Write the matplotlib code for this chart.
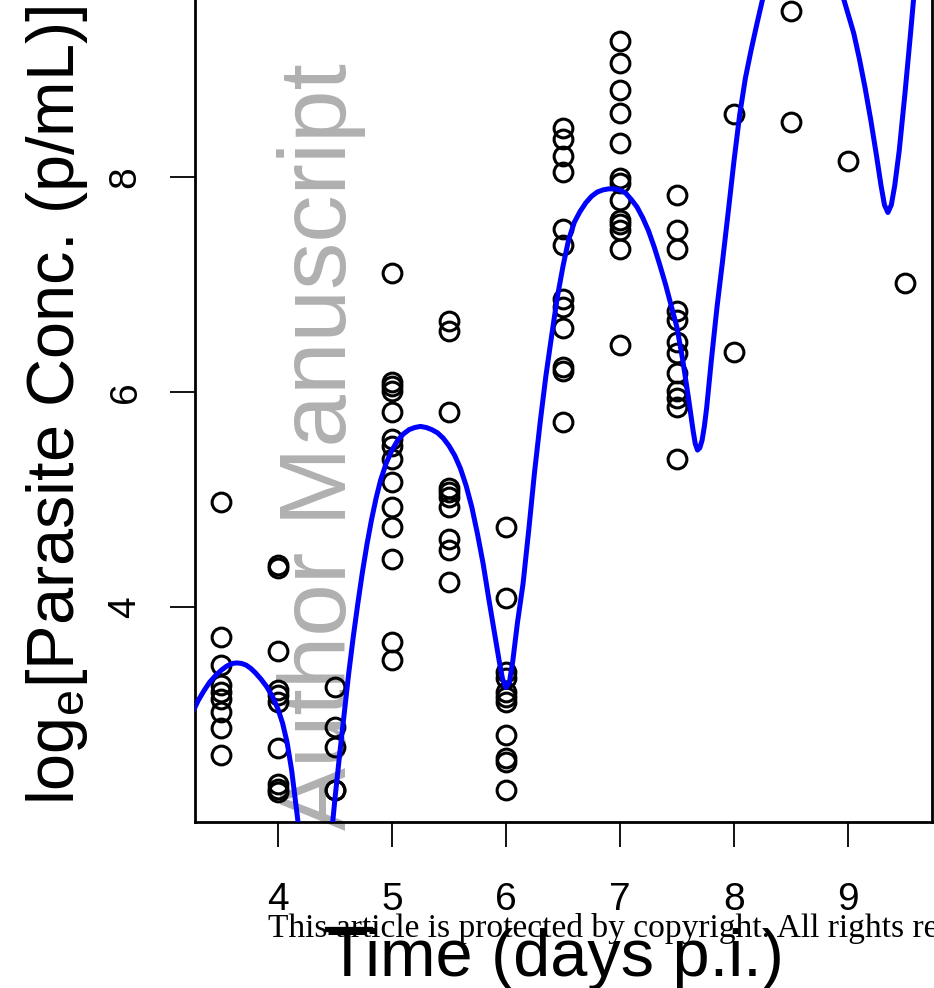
import matplotlib
matplotlib.use("Agg")
import matplotlib.pyplot as plt
from matplotlib.lines import Line2D

plt.rcParams['font.family'] = ['Liberation Sans', 'DejaVu Sans']
plt.rcParams['mathtext.fontset'] = 'custom'
plt.rcParams['mathtext.rm'] = 'Liberation Sans'
plt.rcParams['mathtext.it'] = 'Liberation Sans:italic'

# ---------------- data ----------------
day_3_5 = [4.98, 3.72, 3.46, 3.27, 3.21, 3.14, 3.02, 2.87, 2.62]
day_4_0 = [4.39, 4.36, 3.59, 3.23, 3.18, 3.12, 2.69, 2.35, 2.31, 2.28]
day_4_5 = [3.26, 2.88, 2.70, 2.30, 2.30]
day_5_0 = [7.11, 6.09, 6.06, 6.01, 5.81, 5.56, 5.50, 5.38, 5.16, 4.93, 4.74, 4.45, 3.67, 3.51]
day_5_5 = [6.66, 6.57, 5.81, 5.11, 5.07, 5.02, 4.93, 4.63, 4.53, 4.23]
day_6_0 = [4.74, 4.08, 3.40, 3.34, 3.21, 3.16, 3.12, 2.81, 2.60, 2.56, 2.30]
day_6_5 = [8.46, 8.35, 8.20, 8.05, 7.52, 7.37, 6.87, 6.79, 6.60, 6.23, 6.20, 5.72]
day_7_0 = [9.27, 9.06, 8.81, 8.60, 8.32, 7.99, 7.94, 7.79, 7.60, 7.56, 7.51, 7.33, 6.44]
day_7_5 = [7.83, 7.51, 7.33, 6.75, 6.67, 6.47, 6.36, 6.18, 6.01, 5.94, 5.86, 5.38]
day_8_0 = [8.59, 6.37]
day_8_5 = [9.54, 8.51]
day_9_0 = [8.15]
day_9_5 = [7.01]

obs_days = [3.5, 4.0, 4.5, 5.0, 5.5, 6.0, 6.5, 7.0, 7.5, 8.0, 8.5, 9.0, 9.5]
obs_groups = [day_3_5, day_4_0, day_4_5, day_5_0, day_5_5, day_6_0, day_6_5,
              day_7_0, day_7_5, day_8_0, day_8_5, day_9_0, day_9_5]

# fitted curve
curve_t = [3.26, 3.30, 3.35, 3.40, 3.45, 3.50, 3.55, 3.60, 3.64, 3.68, 3.72,
           3.76, 3.80, 3.85, 3.90, 3.95, 4.00, 4.04, 4.08, 4.12, 4.17, 4.22,
           4.33, 4.45, 4.48, 4.50, 4.54, 4.58, 4.62, 4.66, 4.70, 4.74, 4.78,
           4.82, 4.86, 4.90, 4.95, 5.00, 5.05, 5.10, 5.15, 5.20, 5.25, 5.30,
           5.35, 5.40, 5.45, 5.50, 5.55, 5.60, 5.65, 5.70, 5.75, 5.80, 5.85,
           5.90, 5.94, 5.97, 6.00, 6.03, 6.06, 6.10, 6.15, 6.20, 6.25, 6.30,
           6.35, 6.40, 6.45, 6.50, 6.55, 6.60, 6.65, 6.70, 6.75, 6.80, 6.85,
           6.90, 6.95, 7.00, 7.05, 7.10, 7.15, 7.20, 7.25, 7.30, 7.35, 7.40,
           7.45, 7.50, 7.55, 7.60, 7.64, 7.66, 7.68, 7.70, 7.72, 7.74, 7.76,
           7.80, 7.85, 7.90, 7.95, 8.00, 8.05, 8.10, 8.15, 8.20, 8.25, 8.30,
           8.40, 8.50, 8.60, 8.70, 8.80, 8.90, 8.95, 9.00, 9.05, 9.10, 9.15,
           9.20, 9.25, 9.29, 9.32, 9.35, 9.38, 9.41, 9.45, 9.50, 9.55, 9.60,
           9.65, 9.74]
curve_y = [3.04, 3.13, 3.22, 3.30, 3.36, 3.41, 3.45, 3.475, 3.48, 3.475, 3.46,
           3.43, 3.39, 3.33, 3.26, 3.17, 3.05, 2.92, 2.74, 2.48, 2.05, 1.60,
           1.00, 1.60, 2.00, 2.22, 2.62, 3.00, 3.38, 3.72, 4.03, 4.32, 4.58,
           4.81, 5.01, 5.18, 5.34, 5.46, 5.55, 5.61, 5.65, 5.67, 5.68, 5.67,
           5.65, 5.62, 5.57, 5.50, 5.41, 5.29, 5.13, 4.93, 4.68, 4.40, 4.07,
           3.75, 3.50, 3.33, 3.25, 3.30, 3.50, 3.85, 4.22, 4.72, 5.25, 5.72,
           6.15, 6.52, 6.88, 7.17, 7.42, 7.58, 7.68, 7.76, 7.82, 7.86, 7.88,
           7.89, 7.89, 7.88, 7.85, 7.79, 7.72, 7.62, 7.50, 7.35, 7.18, 7.00,
           6.80, 6.60, 6.30, 5.95, 5.65, 5.52, 5.46, 5.48, 5.55, 5.68, 5.85,
           6.28, 6.78, 7.22, 7.68, 8.15, 8.58, 8.92, 9.18, 9.42, 9.65, 9.86,
           10.20, 10.40, 10.45, 10.35, 10.10, 9.86, 9.70, 9.52, 9.34, 9.10, 8.83,
           8.53, 8.20, 7.92, 7.74, 7.67, 7.74, 7.92, 8.25, 8.78, 9.35, 9.95,
           10.50, 11.40]

x_ticks = [4, 5, 6, 7, 8, 9]
y_ticks = [4, 6, 8]
x_label = "Time (days p.i.)"
y_label = r"$\mathrm{log_e}$[Parasite Conc. (p/mL)]"
watermark = "Author Manuscript"
copyright_note = "This article is protected by copyright. All rights reserved."

# ---------------- figure ----------------
W, H = 934, 988
fig = plt.figure(figsize=(W / 100, H / 100), dpi=100)

def fx(px):
    return px / W

def fy(py):
    return 1 - py / H

ax = fig.add_axes([fx(195), fy(822), fx(932) - fx(195), fy(-20) - fy(822)])
ax.set_xlim(3.272, 9.737)
ax.set_ylim(2.0, 9.833)

xs, ys = [], []
for d, g in zip(obs_days, obs_groups):
    xs.extend([d] * len(g))
    ys.extend(g)
ax.plot(xs, ys, linestyle='none', marker='o', markersize=13.5,
        markerfacecolor='none', markeredgecolor='black', markeredgewidth=2.2,
        zorder=2)
ax.plot(curve_t, curve_y, color='#0000ff', lw=3.6, zorder=3,
        solid_joinstyle='round', solid_capstyle='round')

for s in ax.spines.values():
    s.set_linewidth(2.0)

ax.set_xticks(x_ticks)
ax.set_yticks(y_ticks)
ax.tick_params(axis='both', length=18, width=1.3, labelsize=28, color='black')
ax.tick_params(axis='x', pad=25)
ax.tick_params(axis='y', pad=19, labelrotation=90)
for lab in ax.get_yticklabels():
    lab.set_va('center')

# watermark (below data)
ax.text(fx(346), fy(830), watermark, transform=fig.transFigure, rotation=90,
        rotation_mode='anchor', ha='left', va='baseline', fontsize=68,
        color='#b0b0b0', zorder=0.5, clip_on=False)

# axis labels
fig.text(fx(555), fy(976), x_label, ha='center', va='baseline', fontsize=48)
fig.text(fx(57), fy(805), y_label, ha='center', va='bottom', rotation=90,
         fontsize=48)

# copyright line
fig.text(fx(268), fy(937), copyright_note, ha='left', va='baseline',
         fontsize=24.1, family=['Liberation Serif', 'DejaVu Serif'])
fig.add_artist(Line2D([fx(327), fx(370)], [fy(929), fy(929)], color='black',
                      lw=3.8, transform=fig.transFigure))

fig.savefig("out.png", dpi=100)
